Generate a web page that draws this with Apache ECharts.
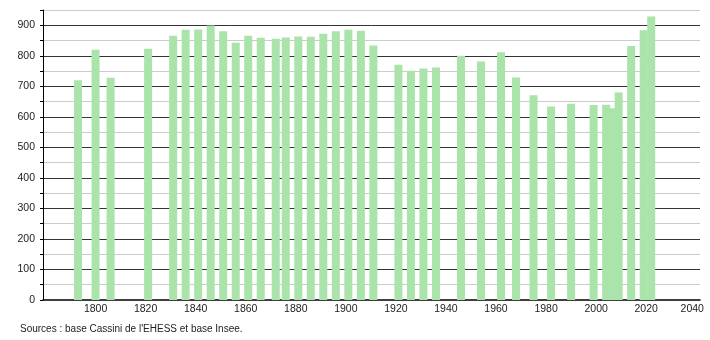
<!DOCTYPE html>
<html>
<head>
<meta charset="utf-8">
<script src="https://cdn.jsdelivr.net/npm/echarts@6/dist/echarts.min.js"></script>
<style>html,body{margin:0;padding:0;background:#fff;}#c{width:710px;height:340px;}</style>
</head>
<body>
<div id="c"></div>
<script>
const years = [1793,1800,1806,1821,1831,1836,1841,1846,1851,1856,1861,1866,1872,1876,1881,1886,1891,1896,1901,1906,1911,1921,1926,1931,1936,1946,1954,1962,1968,1975,1982,1990,1999,2004,2006,2009,2014,2019,2022];
const population = [720,820,728,823,866,885,886,899,880,843,866,859,856,860,863,862,872,880,885,882,834,771,751,758,762,800,781,812,729,671,634,643,639,640,628,680,832,884,929];
const xTickLabels = [1800,1820,1840,1860,1880,1900,1920,1940,1960,1980,2000,2020,2040];
const sourceText = "Sources : base Cassini de l'EHESS et base Insee.";

const chart = echarts.init(document.getElementById('c'), null, {renderer: 'canvas'});
const font = "'Liberation Sans', Arial, sans-serif";
chart.setOption({
  animation: false,
  backgroundColor: '#ffffff',
  grid: {left: 43, right: 10, top: 10, bottom: 40, containLabel: false},
  xAxis: {
    type: 'value', min: 1779, max: 2041.5,
    splitLine: {show: false},
    axisTick: {show: false},
    axisLine: {show: true, onZero: false, lineStyle: {color: '#000', width: 1.5}},
    axisLabel: {
      customValues: xTickLabels,
      color: '#222', fontSize: 10.5, fontFamily: font, margin: 4,
      formatter: v => v === 2040 ? '{r|' + v + '}' : String(v),
      rich: {r: {color: '#222', fontSize: 10.5, fontFamily: font, padding: [0, 8, 0, 0]}}
    }
  },
  yAxis: {
    type: 'value', min: 0, max: 950, interval: 50,
    axisLine: {show: true, lineStyle: {color: '#000', width: 1}},
    axisTick: {show: true, length: 3, lineStyle: {color: '#000'}},
    axisLabel: {
      color: '#222', fontSize: 10.5, fontFamily: font, margin: 8,
      formatter: v => (v % 100 === 0 && v <= 900) ? String(v) : ''
    },
    splitLine: {show: true, showMinLine: false, showMaxLine: true, lineStyle: {color: ['#cccccc', '#333333'], width: 1}}
  },
  series: [{
    type: 'bar',
    barWidth: 8,
    itemStyle: {color: '#aae4aa'},
    data: years.map((y, i) => [y, population[i]])
  }],
  graphic: [{
    type: 'text', left: 20, top: 324,
    style: {text: sourceText, fill: '#222', font: "10px 'Liberation Sans', Arial, sans-serif"}
  }]
});
</script>
</body>
</html>
